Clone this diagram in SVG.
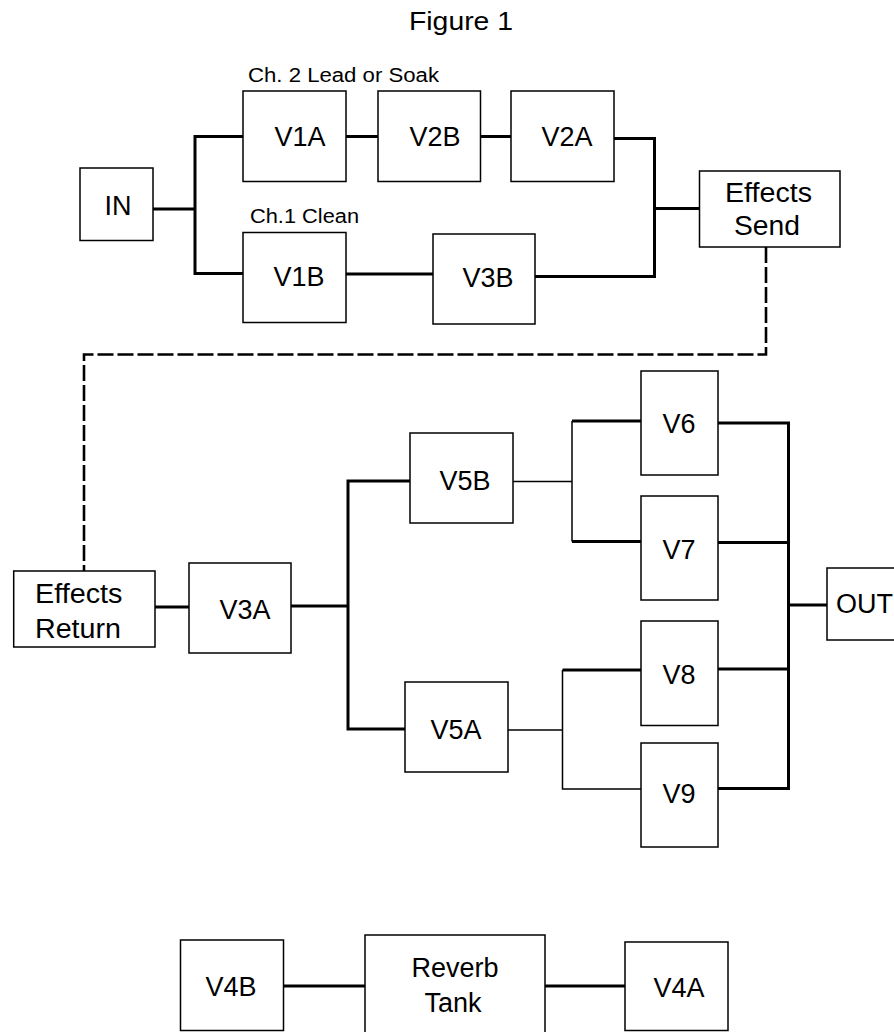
<svg xmlns="http://www.w3.org/2000/svg" width="894" height="1032" viewBox="0 0 894 1032">
<style>
  .box { fill: #fff; stroke: #000; stroke-width: 1.5; }
  .lbl { font-family: "Liberation Sans", Arial, sans-serif; font-size: 27px; fill: #000; text-anchor: middle; }
  .lbs { font-family: "Liberation Sans", Arial, sans-serif; font-size: 27px; fill: #000; }
  .small { font-family: "Liberation Sans", Arial, sans-serif; font-size: 20px; fill: #000; }
  .title { font-family: "Liberation Sans", Arial, sans-serif; font-size: 26px; fill: #000; }
  .thick { fill: none; stroke: #000; stroke-width: 3; }
  .thin { fill: none; stroke: #000; stroke-width: 1.5; }
  .dash { fill: none; stroke: #000; stroke-width: 2.6; stroke-dasharray: 16 4; }
</style>
<rect width="894" height="1032" fill="#fff"/>
<text class="title" x="409" y="30" textLength="104" lengthAdjust="spacingAndGlyphs">Figure 1</text>
<text class="small" x="248" y="81.5" textLength="191" lengthAdjust="spacingAndGlyphs">Ch. 2 Lead or Soak</text>
<text class="small" x="250" y="222.5" textLength="109" lengthAdjust="spacingAndGlyphs">Ch.1 Clean</text>

<g id="connectors">
  <polyline class="thick" points="153,209 195,209"/>
  <polyline class="thick" points="243,136.5 195,136.5 195,273.5 243,273.5"/>
  <polyline class="thick" points="346,136.5 378,136.5"/>
  <polyline class="thick" points="480.5,136.5 511,136.5"/>
  <polyline class="thick" points="346,274 433,274"/>
  <polyline class="thick" points="614,138.5 654.5,138.5 654.5,276.5 535,276.5"/>
  <polyline class="thick" points="654.5,208.5 699.5,208.5"/>
  <polyline class="dash" points="766,247 766,354.5 84,354.5 84,571"/>
  <polyline class="thick" points="155,607 189,607"/>
  <polyline class="thick" points="291,606 348,606"/>
  <polyline class="thick" points="410,481 348,481 348,729 405,729"/>
  <polyline class="thin" points="513,481.5 572,481.5"/>
  <polyline class="thin" points="572,421 572,541.5"/>
  <polyline class="thick" points="572,421 641,421"/>
  <polyline class="thick" points="572,541.5 641,541.5"/>
  <polyline class="thin" points="508,730 562.5,730"/>
  <polyline class="thin" points="562.5,670 562.5,789 641,789"/>
  <polyline class="thick" points="562.5,670 641,670"/>
  <polyline class="thick" points="718,423 788.5,423 788.5,788.5 718,788.5"/>
  <polyline class="thick" points="718,542.5 788.5,542.5"/>
  <polyline class="thick" points="718,669 788.5,669"/>
  <polyline class="thick" points="788.5,605 827,605"/>
  <polyline class="thick" points="284,986 365,986"/>
  <polyline class="thick" points="545,986 625,986"/>
</g>

<g id="IN"><rect class="box" x="80" y="168" width="73" height="72.5"/><text class="lbl" x="118" y="215">IN</text></g>
<g id="V1A"><rect class="box" x="243" y="91" width="103" height="90.5"/><text class="lbl" x="300" y="146">V1A</text></g>
<g id="V2B"><rect class="box" x="378" y="91" width="102.5" height="90.5"/><text class="lbl" x="435" y="146">V2B</text></g>
<g id="V2A"><rect class="box" x="511" y="91" width="103" height="90.5"/><text class="lbl" x="567" y="146">V2A</text></g>
<g id="V1B"><rect class="box" x="243" y="232.5" width="103" height="90"/><text class="lbl" x="299" y="286">V1B</text></g>
<g id="V3B"><rect class="box" x="433" y="234" width="102" height="90"/><text class="lbl" x="488" y="287">V3B</text></g>
<g id="EffectsSend"><rect class="box" x="699.5" y="171" width="140.5" height="76"/><text class="lbs" x="725" y="201.5" textLength="87" lengthAdjust="spacingAndGlyphs">Effects</text><text class="lbs" x="734" y="235" textLength="66" lengthAdjust="spacingAndGlyphs">Send</text></g>
<g id="EffectsReturn"><rect class="box" x="13.7" y="571" width="141.3" height="76"/><text class="lbs" x="35" y="603" textLength="87.5" lengthAdjust="spacingAndGlyphs">Effects</text><text class="lbs" x="35" y="638" textLength="86" lengthAdjust="spacingAndGlyphs">Return</text></g>
<g id="V3A"><rect class="box" x="189" y="563" width="102" height="90"/><text class="lbl" x="245" y="619">V3A</text></g>
<g id="V5B"><rect class="box" x="410" y="433" width="103" height="90"/><text class="lbl" x="465" y="490">V5B</text></g>
<g id="V5A"><rect class="box" x="405" y="682" width="103" height="90"/><text class="lbl" x="456" y="739">V5A</text></g>
<g id="V6"><rect class="box" x="641" y="371" width="77" height="104"/><text class="lbl" x="679" y="433">V6</text></g>
<g id="V7"><rect class="box" x="641" y="496" width="77" height="104"/><text class="lbl" x="679" y="559">V7</text></g>
<g id="V8"><rect class="box" x="641" y="621" width="77" height="104.5"/><text class="lbl" x="679" y="684">V8</text></g>
<g id="V9"><rect class="box" x="641" y="743" width="77" height="104"/><text class="lbl" x="679" y="803">V9</text></g>
<g id="OUT"><rect class="box" x="827" y="568" width="90" height="72"/><text class="lbs" x="836" y="613">OUT</text></g>
<g id="V4B"><rect class="box" x="180.5" y="940" width="103" height="90.5"/><text class="lbl" x="231" y="996">V4B</text></g>
<g id="ReverbTank"><rect class="box" x="365" y="935" width="180" height="110"/><text class="lbl" x="455" y="977">Reverb</text><text class="lbl" x="453" y="1012">Tank</text></g>
<g id="V4A"><rect class="box" x="625" y="942" width="103" height="88.5"/><text class="lbl" x="679" y="997">V4A</text></g>
</svg>
